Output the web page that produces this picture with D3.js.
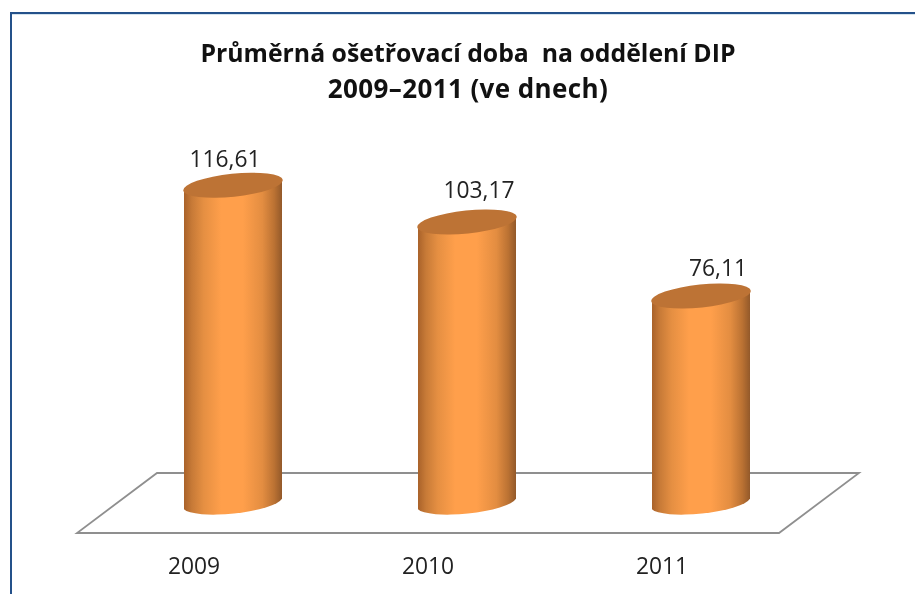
<!DOCTYPE html>
<html><head><meta charset="utf-8">
<script src="https://cdn.jsdelivr.net/npm/d3@7/dist/d3.min.js"></script>
<style>html,body{margin:0;padding:0;background:#fff;overflow:hidden}svg{display:block;filter:blur(0.35px)}
text{font-family:"Open Sans",sans-serif}</style></head><body>
<script>
const categories = ["2009","2010","2011"];
const values = [116.61,103.17,76.11];
const valueLabels = ["116,61","103,17","76,11"];
const titleLines = ["Průměrná ošetřovací doba  na oddělení DIP","2009–2011 (ve dnech)"];

const W=915,H=594;
const svg=d3.select("body").append("svg").attr("width",W).attr("height",H);
const x=d3.scalePoint().domain(categories).range([233,701]);
const y=d3.scaleLinear().domain([0,120]).range([504,176]);
const rx=50, ry=11.5, tilt=-6, halfW=49;
const labelShift={ "2009":[-8,-18], "2010":[12,-24], "2011":[17,-20] };
const titleStyle=[{size:24.8,y:62,sp:0},{size:26,y:98,sp:0.4}];

const defs=svg.append("defs");
const g=defs.append("linearGradient").attr("id","cyl");
[[0,"#a9622a"],[0.08,"#c77a37"],[0.2,"#e58f42"],[0.38,"#ff9f4b"],[0.6,"#ff9f4b"],[0.8,"#e38d41"],[0.92,"#bb7233"],[1,"#93592a"]]
 .forEach(([o,c])=>g.append("stop").attr("offset",o).attr("stop-color",c));

// frame
svg.append("path").attr("d",`M11,${H}V13H${W}`).attr("fill","none").attr("stroke","#24518a").attr("stroke-width",2);
svg.append("path").attr("d",`M12,14.5H${W}`).attr("fill","none").attr("stroke","#d5e4ee").attr("stroke-width",1);

// floor
svg.append("path").attr("d","M77,533H779L859,473H157Z").attr("fill","#fff").attr("stroke","#8f8f8f").attr("stroke-width",1.8);

// title
titleLines.forEach((t,i)=>svg.append("text").attr("x",468).attr("y",titleStyle[i].y).attr("text-anchor","middle")
  .attr("font-size",titleStyle[i].size).attr("letter-spacing",titleStyle[i].sp).attr("font-weight",700).attr("fill","#111").style("white-space","pre").text(t));

const dy=Math.tan(-tilt*Math.PI/180)*halfW;
const bars=svg.selectAll("g.bar").data(categories.map((c,i)=>({c,v:values[i],l:valueLabels[i]}))).join("g");
bars.each(function(d){
  const s=d3.select(this), cx=x(d.c), top=y(d.v), base=y(0);
  s.append("path").attr("fill","url(#cyl)")
   .attr("d",`M${cx-halfW},${top+dy}V${base+dy}A${rx},${ry} ${tilt} 0 0 ${cx+halfW},${base-dy}V${top-dy}Z`);
  s.append("ellipse").attr("cx",cx).attr("cy",top).attr("rx",rx).attr("ry",ry)
   .attr("transform",`rotate(${tilt} ${cx} ${top})`).attr("fill","#bd7335");
  const sh=labelShift[d.c];
  s.append("text").attr("x",cx+sh[0]).attr("y",top+sh[1]).attr("text-anchor","middle").attr("font-size",22.8).attr("fill","#222").text(d.l);
  s.append("text").attr("x",cx-39).attr("y",574).attr("text-anchor","middle").attr("font-size",22.8).attr("fill","#222").text(d.c);
});
</script></body></html>
